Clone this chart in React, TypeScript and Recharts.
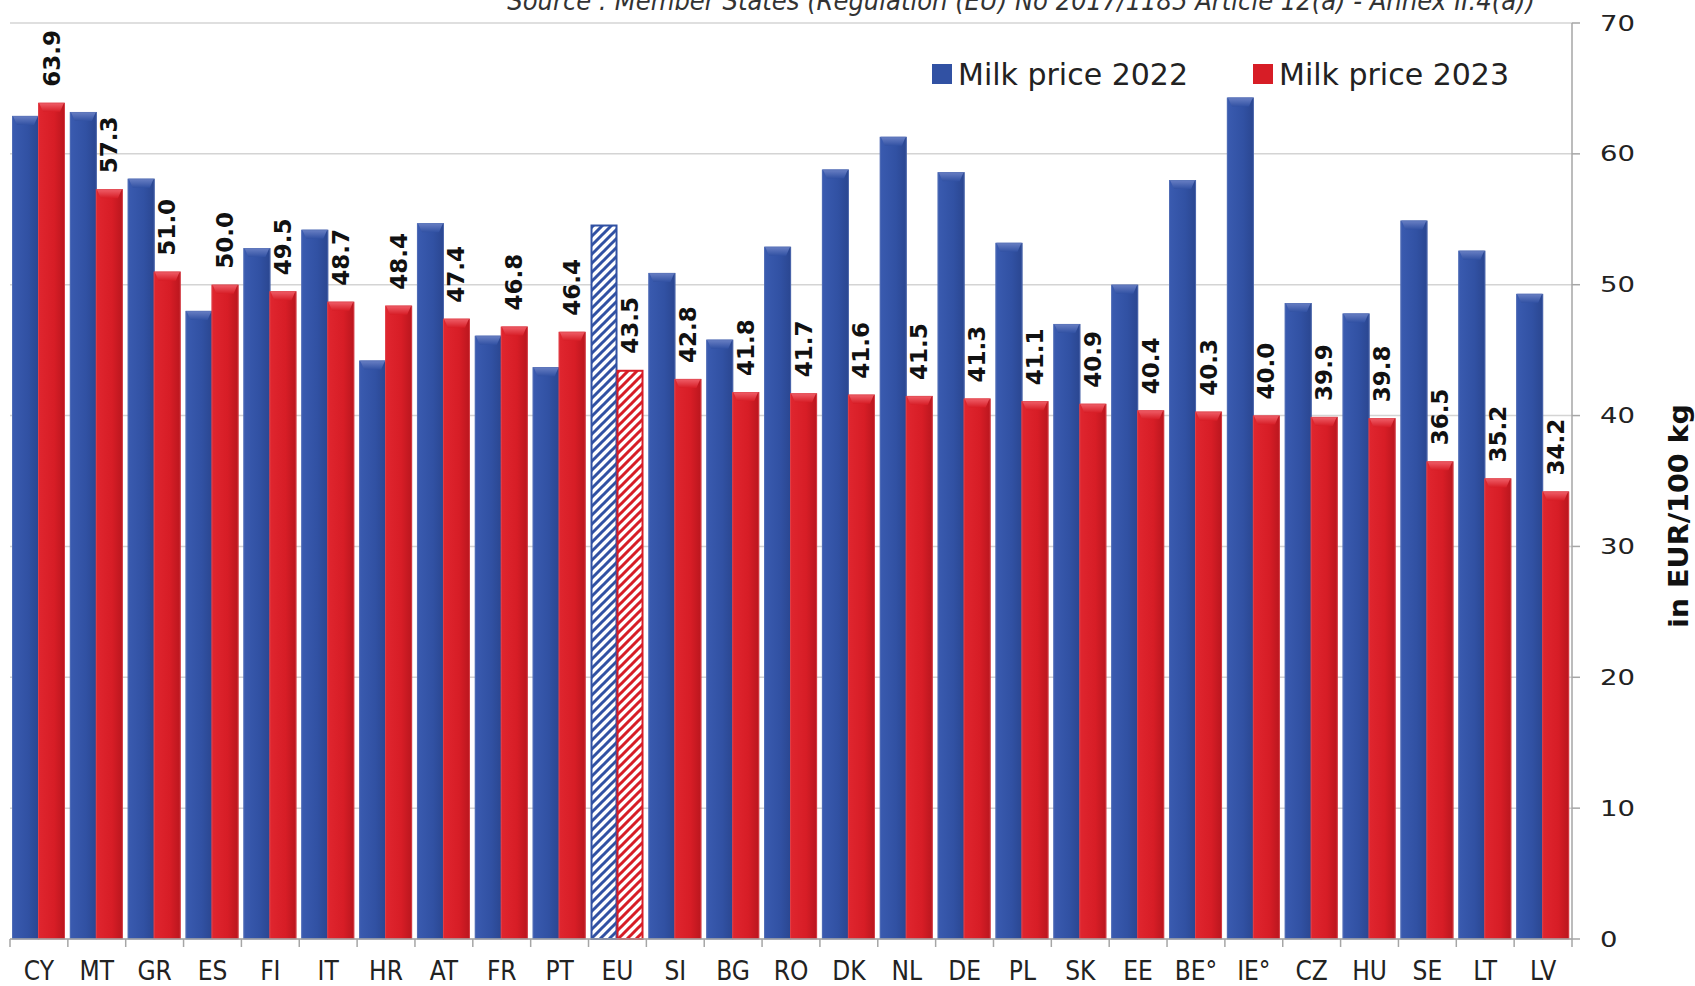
import React from 'react';
import { BarChart, Bar, XAxis, YAxis, CartesianGrid, LabelList } from 'recharts';

const countries = ['CY','MT','GR','ES','FI','IT','HR','AT','FR','PT','EU','SI','BG','RO','DK','NL','DE','PL','SK','EE','BE°','IE°','CZ','HU','SE','LT','LV'];
const price2022 = [62.9,63.2,58.1,48.0,52.8,54.2,44.2,54.7,46.1,43.7,54.6,50.9,45.8,52.9,58.8,61.3,58.6,53.2,47.0,50.0,58.0,64.3,48.6,47.8,54.9,52.6,49.3];
const price2023 = [63.9,57.3,51.0,50.0,49.5,48.7,48.4,47.4,46.8,46.4,43.5,42.8,41.8,41.7,41.6,41.5,41.3,41.1,40.9,40.4,40.3,40.0,39.9,39.8,36.5,35.2,34.2];
const yTicks = [0,10,20,30,40,50,60,70];
const seriesNames = ['Milk price 2022','Milk price 2023'];
const sourceText = 'Source : Member States (Regulation (EU) No 2017/1185 Article 12(a) - Annex II.4(a))';
const yTitle = 'in EUR/100 kg';

const data = countries.map((c, i) => ({ name: c, v2022: price2022[i], v2023: price2023[i] }));

const BLUE = '#3151A3';
const RED = '#D71D26';
const FONT = "'DejaVu Sans', Verdana, sans-serif";

const makeShape = (kind: 'blue' | 'red') => (props: any) => {
  const { x, y, width, height, index } = props;
  if (!height || height <= 0) return null;
  const color = kind === 'blue' ? BLUE : RED;
  if (countries[index] === 'EU') {
    return (
      <g>
        <rect x={x + 1} y={y + 1} width={width - 2} height={height - 1} fill={`url(#hatch-${kind})`} stroke={color} strokeWidth={2} />
      </g>
    );
  }
  const bev = Math.min(9, height);
  return (
    <g>
      <rect x={x} y={y} width={width} height={height} fill={`url(#hgrad-${kind})`} />
      <path d={`M${x + 1},${y} L${x + width - 1},${y} L${x + width - 5},${y + bev} L${x + 5},${y + bev} Z`} fill={`url(#vgrad-${kind})`} />
      <rect x={x + 0.5} y={y + 0.5} width={width - 1} height={height - 0.5} fill="none" stroke={kind === 'blue' ? '#5a74b8' : '#e04a52'} strokeWidth={1} opacity={0.7} />
    </g>
  );
};

const CatTick = (props: any) => {
  const { x, y, payload, index } = props;
  const off = payload?.offset ?? 0;
  const ax = y - 8;
  return (
    <g>
      <line x1={x - off} y1={ax} x2={x - off} y2={ax + 8} stroke="#a6a6a6" strokeWidth={1.5} />
      {index === countries.length - 1 && (
        <line x1={x + off} y1={ax} x2={x + off} y2={ax + 8} stroke="#a6a6a6" strokeWidth={1.5} />
      )}
      <text x={x} y={ax + 41} textAnchor="middle" fontSize={26} fill="#222" fontFamily={FONT} style={{ fontStretch: 'condensed' }}>
        {payload.value}
      </text>
    </g>
  );
};

const ValTick = (props: any) => {
  const { x, y, payload } = props;
  return (
    <text transform={`translate(${x},${y}) scale(1.25,1)`} textAnchor="start" dominantBaseline="central" fontSize={22} fill="#222" fontFamily={FONT}>
      {payload.value}
    </text>
  );
};

const ValueLabel = (props: any) => {
  const { x, y, width, value } = props;
  const cx = Number(x) + Number(width) / 2;
  const cy = Number(y) - 16;
  return (
    <text transform={`translate(${cx},${cy}) rotate(-90)`} textAnchor="start" dominantBaseline="central" fontSize={23} fontWeight="bold" fill="#111" fontFamily={FONT}>
      {Number(value).toFixed(1)}
    </text>
  );
};

export default function App() {
  return (
    <div style={{ position: 'absolute', left: 0, top: 0, width: 1695, height: 986, overflow: 'hidden', background: '#fff' }}>
      <BarChart width={1695} height={986} data={data} margin={{ top: 23, right: 0, left: 10, bottom: 0 }} barCategoryGap={2} barGap={-1}>
        <defs>
          <linearGradient id="hgrad-blue" x1="0" y1="0" x2="1" y2="0">
            <stop offset="0" stopColor="#3a5bb0" />
            <stop offset="0.6" stopColor="#3151A3" />
            <stop offset="1" stopColor="#2a4690" />
          </linearGradient>
          <linearGradient id="hgrad-red" x1="0" y1="0" x2="1" y2="0">
            <stop offset="0" stopColor="#e0262f" />
            <stop offset="0.6" stopColor="#d71d26" />
            <stop offset="1" stopColor="#b9161e" />
          </linearGradient>
          <linearGradient id="vgrad-blue" x1="0" y1="0" x2="0" y2="1">
            <stop offset="0" stopColor="#6a80c4" />
            <stop offset="1" stopColor="#3151A3" />
          </linearGradient>
          <linearGradient id="vgrad-red" x1="0" y1="0" x2="0" y2="1">
            <stop offset="0" stopColor="#f0606a" />
            <stop offset="1" stopColor="#d71d26" />
          </linearGradient>
          <pattern id="hatch-blue" width="9" height="9" patternUnits="userSpaceOnUse">
            <rect width="9" height="9" fill="#fff" />
            <path d="M-2,2 L2,-2 M0,9 L9,0 M7,11 L11,7" stroke={BLUE} strokeWidth={3} />
          </pattern>
          <pattern id="hatch-red" width="9" height="9" patternUnits="userSpaceOnUse">
            <rect width="9" height="9" fill="#fff" />
            <path d="M-2,2 L2,-2 M0,9 L9,0 M7,11 L11,7" stroke={RED} strokeWidth={3} />
          </pattern>
        </defs>
        <CartesianGrid horizontal vertical={false} stroke="#d4d4d4" strokeWidth={1.5} />
        <XAxis
          dataKey="name"
          height={47}
          interval={0}
          tickLine={false}
          tickSize={8}
          tickMargin={0}
          axisLine={{ stroke: '#a6a6a6', strokeWidth: 1.5 }}
          tick={<CatTick />}
        />
        <YAxis
          orientation="right"
          width={123}
          domain={[0, 70]}
          ticks={yTicks}
          interval={0}
          tickSize={8}
          tickMargin={20}
          axisLine={{ stroke: '#a6a6a6', strokeWidth: 1.5 }}
          tickLine={{ stroke: '#a6a6a6', strokeWidth: 1.5 }}
          tick={<ValTick />}
        />
        <Bar dataKey="v2022" name={seriesNames[0]} fill={BLUE} shape={makeShape('blue')} isAnimationActive={false} />
        <Bar dataKey="v2023" name={seriesNames[1]} fill={RED} shape={makeShape('red')} isAnimationActive={false}>
          <LabelList dataKey="v2023" content={<ValueLabel />} />
        </Bar>
      </BarChart>

      <div style={{ position: 'absolute', right: 160, top: -13, fontSize: 27, lineHeight: '27px', fontStyle: 'italic', fontFamily: FONT, fontStretch: 'condensed', color: '#333', whiteSpace: 'nowrap' }}>
        {sourceText}
      </div>

      <div style={{ position: 'absolute', left: 1679, top: 516, transform: 'translate(-50%, -50%) rotate(-90deg) scaleX(1.22)', fontSize: 26, fontWeight: 'bold', fontFamily: FONT, fontStretch: 'condensed', color: '#111', whiteSpace: 'nowrap' }}>
        {yTitle}
      </div>

      <div style={{ position: 'absolute', left: 932, top: 56, height: 36, display: 'flex', alignItems: 'center', fontSize: 30, fontFamily: FONT, color: '#222', whiteSpace: 'nowrap' }}>
        <span style={{ display: 'inline-block', width: 20, height: 20, background: BLUE, marginRight: 6 }} />
        <span>{seriesNames[0]}</span>
        <span style={{ display: 'inline-block', width: 20, height: 20, background: RED, marginLeft: 65, marginRight: 6 }} />
        <span>{seriesNames[1]}</span>
      </div>
    </div>
  );
}
